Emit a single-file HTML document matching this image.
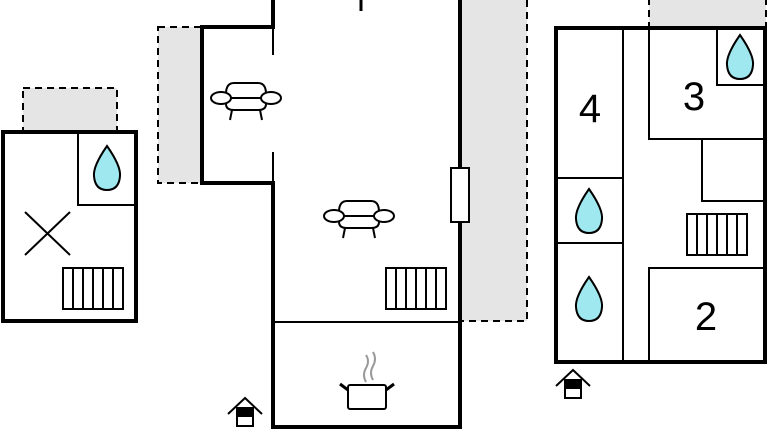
<!DOCTYPE html>
<html><head><style>html,body{margin:0;padding:0;background:#fff}svg{display:block}</style></head>
<body>
<svg width="768" height="432" viewBox="0 0 768 432" xmlns="http://www.w3.org/2000/svg">
<defs>
<g id="sofa" fill="#fff" stroke="#000" stroke-width="2">
 <path d="M-20 -4 Q-20 -15 -12 -15 H12 Q20 -15 20 -4 V6 Q20 12 12 12 H-12 Q-20 12 -20 6 Z"/>
 <line x1="-18" y1="0" x2="18" y2="0"/>
 <ellipse cx="-25" cy="0" rx="10" ry="6"/>
 <ellipse cx="25" cy="0" rx="10" ry="6"/>
 <line x1="-14" y1="12" x2="-16" y2="22"/>
 <line x1="14" y1="12" x2="16" y2="22"/>
</g>
<g id="rad" fill="#fff" stroke="#000" stroke-width="2">
 <rect x="0" y="0" width="60" height="41"/>
 <line x1="10" y1="0" x2="10" y2="41"/><line x1="20" y1="0" x2="20" y2="41"/>
 <line x1="30" y1="0" x2="30" y2="41"/><line x1="40" y1="0" x2="40" y2="41"/>
 <line x1="50" y1="0" x2="50" y2="41"/>
</g>
<path id="drop" d="M0 -22 Q14 -2 13 8 Q12 22 0 22 Q-12 22 -13 8 Q-14 -2 0 -22 Z" fill="#9fe8ef" stroke="#000" stroke-width="2"/>
<g id="ent" stroke="#000" stroke-width="2" fill="#fff">
 <polyline points="-17,6 0,-10 17,6" fill="none"/>
 <rect x="-8" y="0" width="16" height="18"/>
 <rect x="-8" y="0" width="16" height="8" fill="#000"/>
</g>
</defs>

<!-- grey areas -->
<rect x="23" y="88" width="94" height="43" fill="#e5e5e5" stroke="#000" stroke-width="2" stroke-dasharray="7,5"/>
<rect x="158" y="27" width="44" height="156" fill="#e5e5e5" stroke="#000" stroke-width="2" stroke-dasharray="7,5"/>
<rect x="460" y="-5" width="67" height="326" fill="#e5e5e5" stroke="#000" stroke-width="2" stroke-dasharray="7,5"/>
<rect x="649" y="-5" width="117" height="32" fill="#e5e5e5" stroke="#000" stroke-width="2" stroke-dasharray="7,5"/>

<!-- left building -->
<rect x="3" y="132" width="133" height="189" fill="#fff" stroke="#000" stroke-width="4"/>
<polyline points="78,132 78,205 136,205" fill="none" stroke="#000" stroke-width="2"/>
<use href="#drop" x="107" y="168"/>
<line x1="25" y1="212" x2="70" y2="255" stroke="#000" stroke-width="2"/>
<line x1="70" y1="212" x2="25" y2="255" stroke="#000" stroke-width="2"/>
<use href="#rad" x="63" y="268"/>

<!-- middle -->
<rect x="202" y="27" width="71" height="156" fill="#fff"/>
<rect x="273" y="-5" width="187" height="432" fill="#fff"/>
<polyline points="273,0 273,27 202,27 202,183 273,183 273,427 460,427 460,222" fill="none" stroke="#000" stroke-width="4"/>
<line x1="460" y1="0" x2="460" y2="168" stroke="#000" stroke-width="4"/>
<rect x="451" y="168" width="18" height="54" fill="#fff" stroke="#000" stroke-width="2"/>
<line x1="273" y1="27" x2="273" y2="55" stroke="#000" stroke-width="2"/>
<line x1="273" y1="152" x2="273" y2="183" stroke="#000" stroke-width="2"/>
<line x1="273" y1="322" x2="460" y2="322" stroke="#000" stroke-width="2"/>
<line x1="361" y1="0" x2="361" y2="11" stroke="#000" stroke-width="3"/>
<use href="#sofa" x="246" y="98"/>
<use href="#sofa" x="359" y="216"/>
<use href="#rad" x="386" y="268"/>
<!-- pot -->
<g stroke="#000" stroke-width="2" fill="#fff">
 <rect x="348" y="385" width="38" height="24" rx="2"/>
 <line x1="348" y1="390" x2="340" y2="384" stroke-width="3"/>
 <line x1="386" y1="390" x2="394" y2="384" stroke-width="3"/>
</g>
<path d="M366 382 Q362 375 366 368 Q370 361 366 355 M373 380 Q369 373 373 366 Q377 359 373 352" fill="none" stroke="#999" stroke-width="2"/>
<use href="#ent" x="245" y="408"/>

<!-- right building -->
<rect x="556" y="28" width="209" height="334" fill="#fff" stroke="#000" stroke-width="4"/>
<g stroke="#000" stroke-width="2" fill="none">
 <line x1="623" y1="28" x2="623" y2="362"/>
 <polyline points="649,28 649,139 766,139"/>
 <polyline points="717,28 717,85 766,85"/>
 <polyline points="702,139 702,201 766,201"/>
 <polyline points="649,362 649,268 766,268"/>
 <line x1="556" y1="178" x2="623" y2="178"/>
 <line x1="556" y1="243" x2="623" y2="243"/>
</g>
<use href="#rad" x="687" y="214"/>
<use href="#drop" x="740" y="57"/>
<use href="#drop" x="589" y="211"/>
<use href="#drop" x="589" y="299"/>
<g font-family="Liberation Sans, sans-serif" font-size="40" text-anchor="middle" fill="#000">
 <text x="590" y="122">4</text>
 <text x="694" y="110">3</text>
 <text x="706" y="330">2</text>
</g>
<use href="#ent" x="573" y="380"/>
</svg>
</body></html>
